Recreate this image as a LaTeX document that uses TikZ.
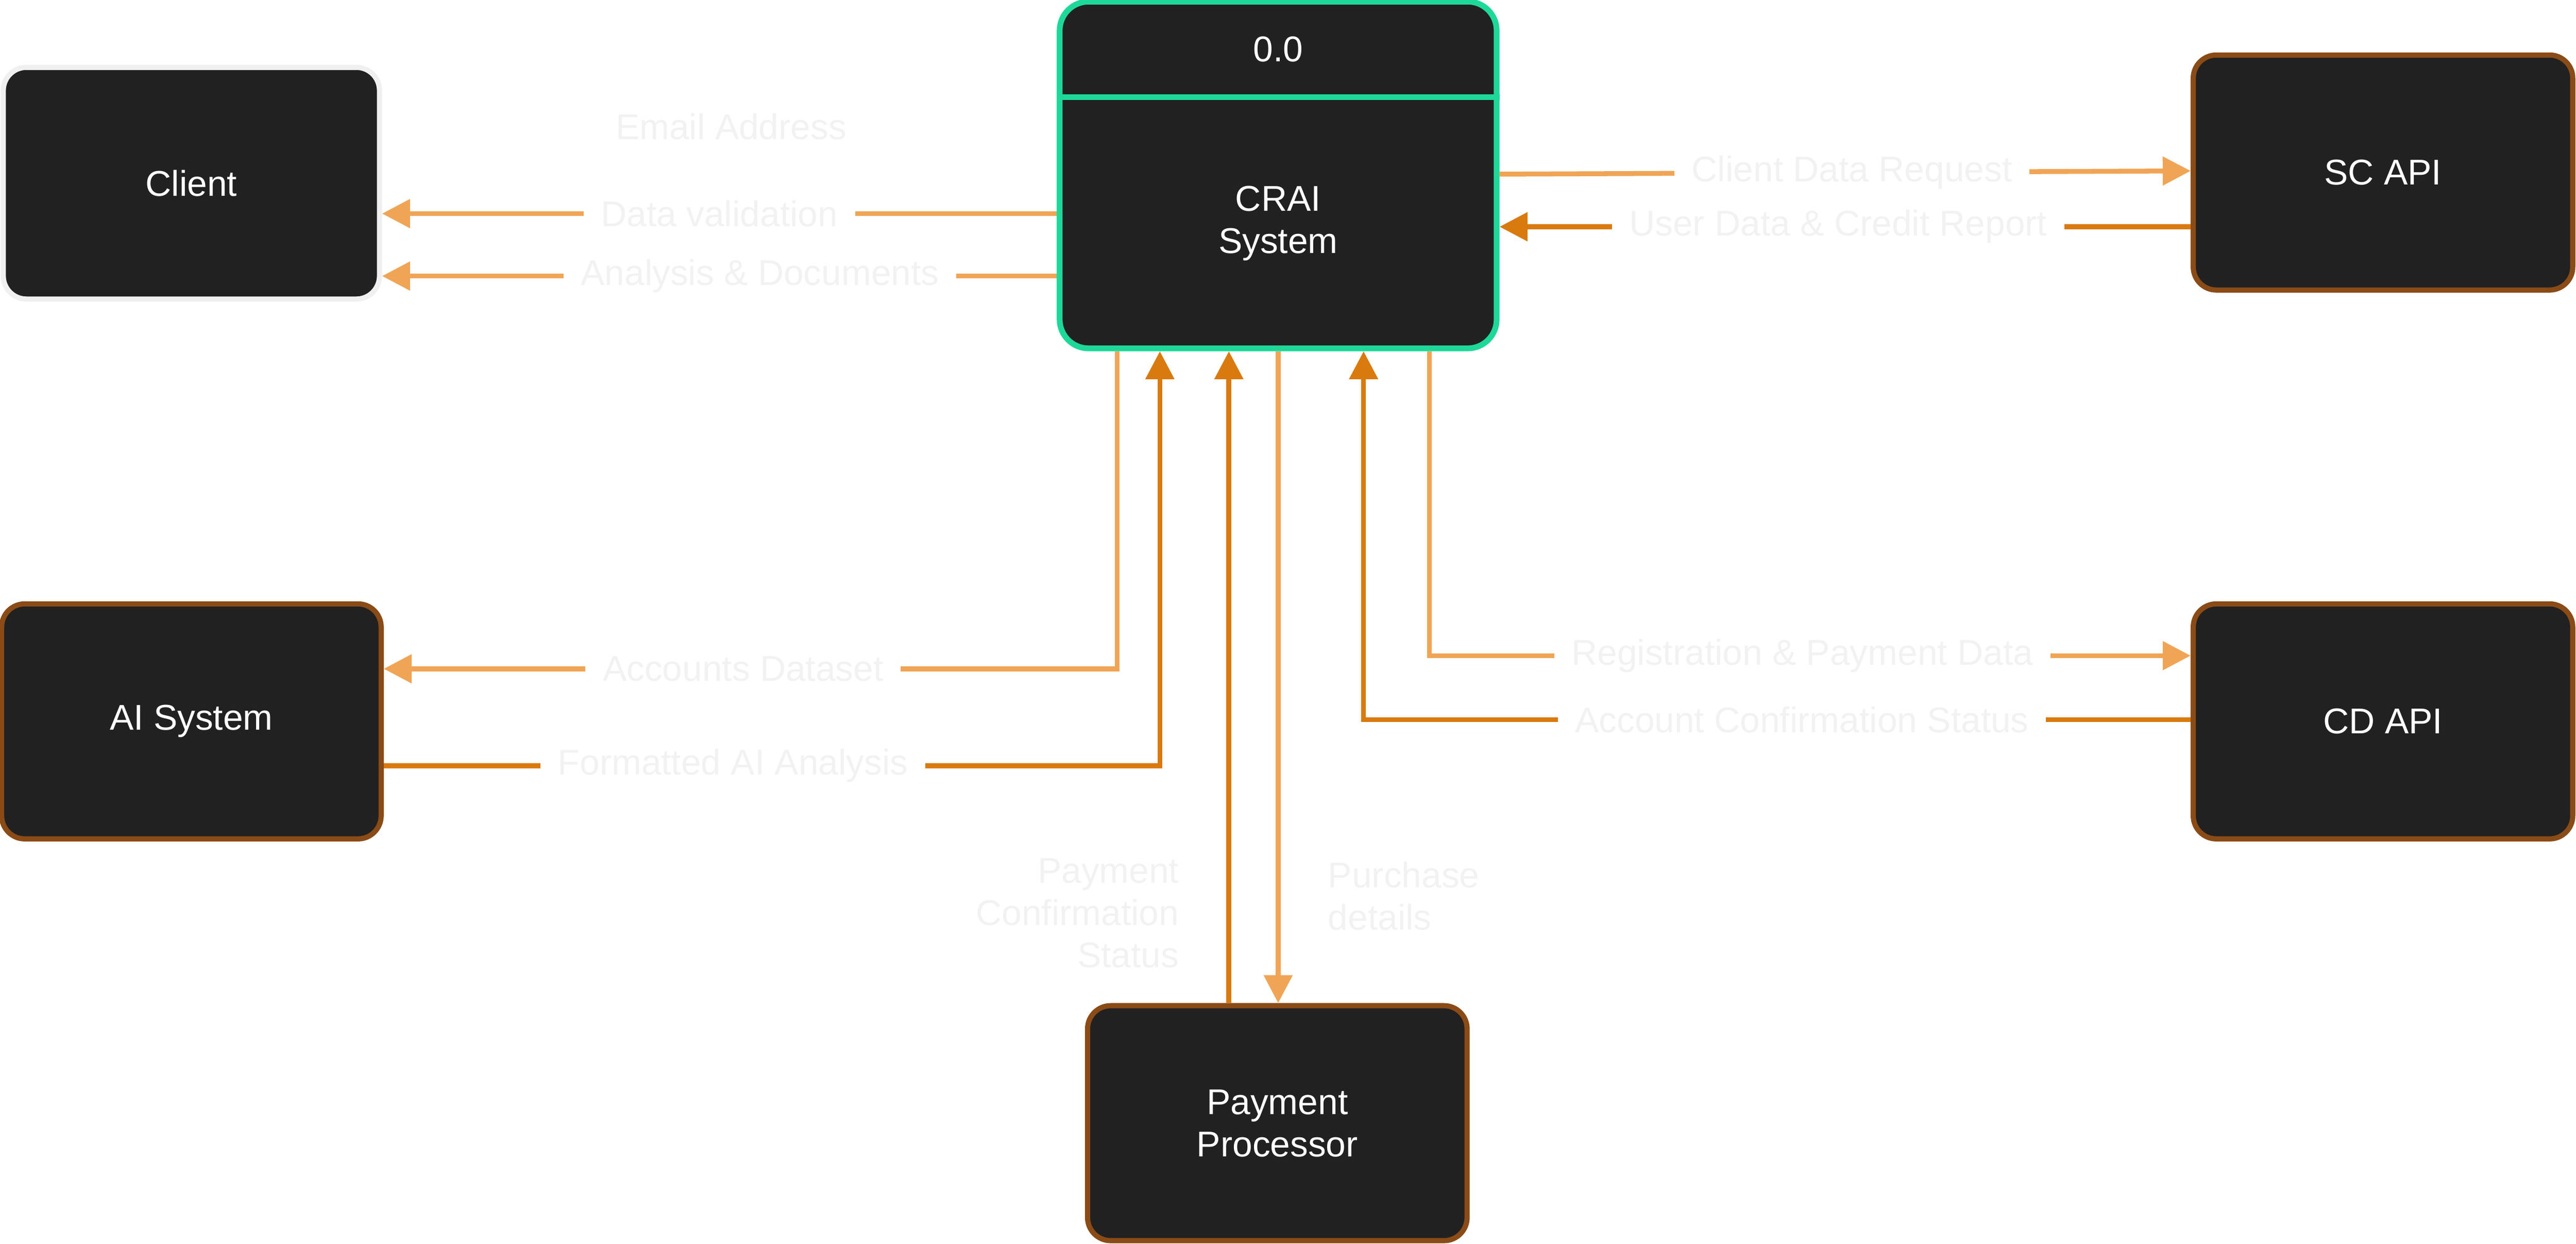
\documentclass[tikz,border=0pt]{standalone}
\usepackage{fontspec}
\setmainfont{Liberation Sans}
\usetikzlibrary{positioning,calc,arrows.meta}
\definecolor{boxbg}{HTML}{212121}
\definecolor{lightflow}{HTML}{F0A556}
\definecolor{darkflow}{HTML}{D97A0E}
\definecolor{brownline}{HTML}{8A4B16}
\definecolor{greenline}{HTML}{1ED89A}
\definecolor{labeltext}{HTML}{F2F2F2}
\begin{document}
\begin{tikzpicture}[
    x=1cm, y=-1cm,
    entity/.style={rectangle, draw=brownline, fill=boxbg, line width=0.9pt, minimum width=2.31cm, minimum height=1.43cm, text centered, rounded corners=4pt, text=white, font=\fontsize{6.2}{7.3}\selectfont, align=center},
    arrow/.style={-{Triangle[length=0.17cm,width=0.17cm]}, line width=0.85pt, lightflow},
    arrow2/.style={-{Triangle[length=0.17cm,width=0.17cm]}, line width=0.85pt, darkflow},
    flow/.style={fill=white, text=labeltext, inner sep=3pt, font=\fontsize{6.2}{7.3}\selectfont}
]
    \useasboundingbox (0,0) rectangle (15.68,7.57);

    % external entities
    \node[entity, draw=black!6, minimum width=2.29cm, minimum height=1.41cm] (client) at (1.165,1.115) {Client};
    \node[entity] (scapi) at (14.505,1.05) {SC API};
    \node[entity] (aisys) at (1.165,4.39) {AI System};
    \node[entity] (cdapi) at (14.505,4.39) {CD API};
    \node[entity] (payment) at (7.775,6.835) {Payment\\Processor};

    % process
    \node[rectangle, draw=greenline, fill=boxbg, line width=1pt, rounded corners=5pt, minimum width=2.66cm, minimum height=2.11cm] (crai) at (7.78,1.065) {};
    \draw[greenline, line width=1pt] (crai.west |- 0,0.59) -- (crai.east |- 0,0.59);
    \node[text=white, font=\fontsize{6.2}{7.3}\selectfont] (craiid) at (7.78,0.30) {0.0};
    \node[text=white, font=\fontsize{6.2}{7.3}\selectfont, align=center] (crainame) at (7.78,1.36) {CRAI\\System};

    % client flows
    \node[flow] (email) at (4.45,0.77) {Email Address};
    \draw[arrow] (crai.west |- 0,1.30) -- node[flow] {Data validation} (client.east |- 0,1.30);
    \draw[arrow] (crai.west |- 0,1.68) -- node[flow, pos=0.44] {Analysis \& Documents} (client.east |- 0,1.68);

    % sc api flows
    \draw[arrow] (crai.east |- 0,1.06) -- node[flow, pos=0.51] {Client Data Request} (scapi.west |- 0,1.04);
    \draw[arrow2] (scapi.west |- 0,1.38) -- node[flow, pos=0.51] {User Data \& Credit Report} (crai.east |- 0,1.38);

    % ai system flows
    \coordinate (acc) at (6.80,4.07);
    \coordinate (fmt) at (7.06,4.66);
    \draw[arrow] (crai.south -| acc) -- (acc) -- node[flow, pos=0.51] {Accounts Dataset} (aisys.east |- acc);
    \draw[arrow2] (aisys.east |- fmt) -- node[flow, pos=0.45] {Formatted AI Analysis} (fmt) -- (crai.south -| fmt);

    % payment flows
    \draw[arrow2] (payment.north -| 7.48,0) -- (crai.south -| 7.48,0);
    \draw[arrow] (crai.south -| 7.78,0) -- (payment.north -| 7.78,0);
    \node[text=labeltext, font=\fontsize{6.2}{7.3}\selectfont, align=right, anchor=north east] (paylbl) at (7.30,5.10) {Payment\\Confirmation\\Status};
    \node[text=labeltext, font=\fontsize{6.2}{7.3}\selectfont, align=left, anchor=north west] (purlbl) at (7.96,5.12) {Purchase\\details};

    % cd api flows
    \coordinate (reg) at (8.70,3.99);
    \coordinate (conf) at (8.30,4.38);
    \draw[arrow] (crai.south -| reg) -- (reg) -- node[flow, pos=0.49] {Registration \& Payment Data} (cdapi.west |- reg);
    \draw[arrow2] (cdapi.west |- conf) -- node[flow, pos=0.47] {Account Confirmation Status} (conf) -- (crai.south -| conf);
\end{tikzpicture}
\end{document}
